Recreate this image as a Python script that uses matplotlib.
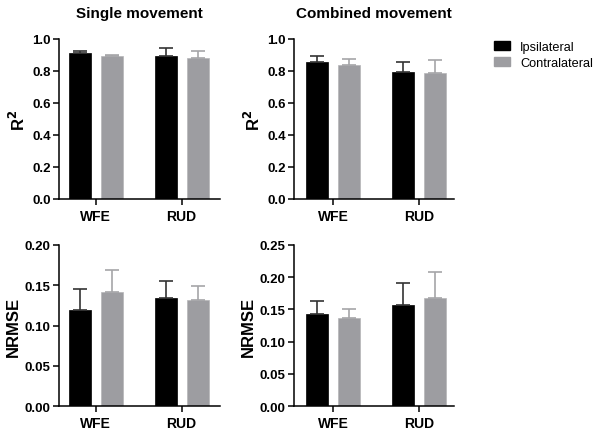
import matplotlib
matplotlib.use("Agg")
from matplotlib import pyplot as plt
from matplotlib.patches import Patch
import numpy as np

plt.rcParams["font.family"] = ["Liberation Sans", "DejaVu Sans"]

categories = ["WFE", "RUD"]
groups = ["Ipsilateral", "Contralateral"]

# R^2, single movement
r2_single_ipsi = [0.910, 0.891]
r2_single_ipsi_err = [0.016, 0.050]
r2_single_contra = [0.896, 0.879]
r2_single_contra_err = [0.005, 0.043]

# R^2, combined movement
r2_comb_ipsi = [0.856, 0.793]
r2_comb_ipsi_err = [0.040, 0.066]
r2_comb_contra = [0.836, 0.785]
r2_comb_contra_err = [0.041, 0.084]

# NRMSE, single movement
nrmse_single_ipsi = [0.1195, 0.134]
nrmse_single_ipsi_err = [0.026, 0.021]
nrmse_single_contra = [0.141, 0.131]
nrmse_single_contra_err = [0.028, 0.018]

# NRMSE, combined movement
nrmse_comb_ipsi = [0.143, 0.156]
nrmse_comb_ipsi_err = [0.020, 0.034]
nrmse_comb_contra = [0.137, 0.167]
nrmse_comb_contra_err = [0.013, 0.041]

r2_ticks = [0.0, 0.2, 0.4, 0.6, 0.8, 1.0]
nrmse_single_ticks = [0.00, 0.05, 0.10, 0.15, 0.20]
nrmse_comb_ticks = [0.00, 0.05, 0.10, 0.15, 0.20, 0.25]

black = "#000000"
grey = "#9d9da1"
W, H = 597, 435

fig = plt.figure(figsize=(W / 100, H / 100), dpi=100)


def make_ax(x0, x1, y0, y1):
    return fig.add_axes([x0 / W, 1 - y1 / H, (x1 - x0) / W, (y1 - y0) / H])


def panel(ax, ipsi, ipsi_err, contra, contra_err, ticks, fmt, ylabel, xlim):
    x = np.arange(len(categories))
    off = 0.187
    width = 0.255
    ax.bar(x - off, ipsi, width, color=black, edgecolor=black, linewidth=0.5,
           yerr=[np.zeros(len(ipsi)), ipsi_err], capsize=5,
           error_kw=dict(ecolor="#333333", elinewidth=1.2, capthick=1.2), zorder=2)
    ax.bar(x + off, contra, width, color=grey, edgecolor="#b5b5b8", linewidth=0.5,
           yerr=[np.zeros(len(contra)), contra_err], capsize=5,
           error_kw=dict(ecolor="#a5a5a8", elinewidth=1.2, capthick=1.2), zorder=1)
    ax.set_xlim(*xlim)
    ax.set_ylim(ticks[0], ticks[-1])
    ax.set_yticks(ticks, labels=[fmt.format(t) for t in ticks])
    ax.set_xticks(x, labels=categories)
    for s in ["top", "right"]:
        ax.spines[s].set_visible(False)
    for s in ["left", "bottom"]:
        ax.spines[s].set_linewidth(1.1)
    ax.tick_params(axis="y", length=4.5, width=1.1, labelsize=9.5, pad=1.5)
    ax.tick_params(axis="x", length=4, width=1.1, labelsize=10, pad=3)
    for lab in ax.get_xticklabels() + ax.get_yticklabels():
        lab.set_fontweight("bold")
    ax.set_ylabel(ylabel, fontsize=12, fontweight="bold", labelpad=3)


ax1 = make_ax(59, 220, 40, 200)
panel(ax1, r2_single_ipsi, r2_single_ipsi_err, r2_single_contra, r2_single_contra_err,
      r2_ticks, "{:.1f}", "R$^\\mathbf{2}$", (-0.43, 1.447))
ax1.set_title("Single movement", fontsize=11, fontweight="bold", pad=16)

ax2 = make_ax(294, 454, 40, 200)
panel(ax2, r2_comb_ipsi, r2_comb_ipsi_err, r2_comb_contra, r2_comb_contra_err,
      r2_ticks, "{:.1f}", "R$^\\mathbf{2}$", (-0.46, 1.413))
ax2.set_title("Combined movement", fontsize=11, fontweight="bold", pad=16)

ax3 = make_ax(59, 220, 245.7, 407.3)
panel(ax3, nrmse_single_ipsi, nrmse_single_ipsi_err, nrmse_single_contra, nrmse_single_contra_err,
      nrmse_single_ticks, "{:.2f}", "NRMSE", (-0.43, 1.447))

ax4 = make_ax(294, 454, 245.7, 407.3)
panel(ax4, nrmse_comb_ipsi, nrmse_comb_ipsi_err, nrmse_comb_contra, nrmse_comb_contra_err,
      nrmse_comb_ticks, "{:.2f}", "NRMSE", (-0.46, 1.413))

handles = [Patch(facecolor=black, edgecolor=black), Patch(facecolor=grey, edgecolor=grey)]
fig.legend(handles, groups, loc="upper left", bbox_to_anchor=(494 / W, 1 - 42 / H),
           frameon=False, fontsize=9.2, handlelength=1.25, handleheight=0.65,
           handletextpad=0.8, labelspacing=0.3, borderpad=0, borderaxespad=0)

fig.savefig("out.png", dpi=100)
